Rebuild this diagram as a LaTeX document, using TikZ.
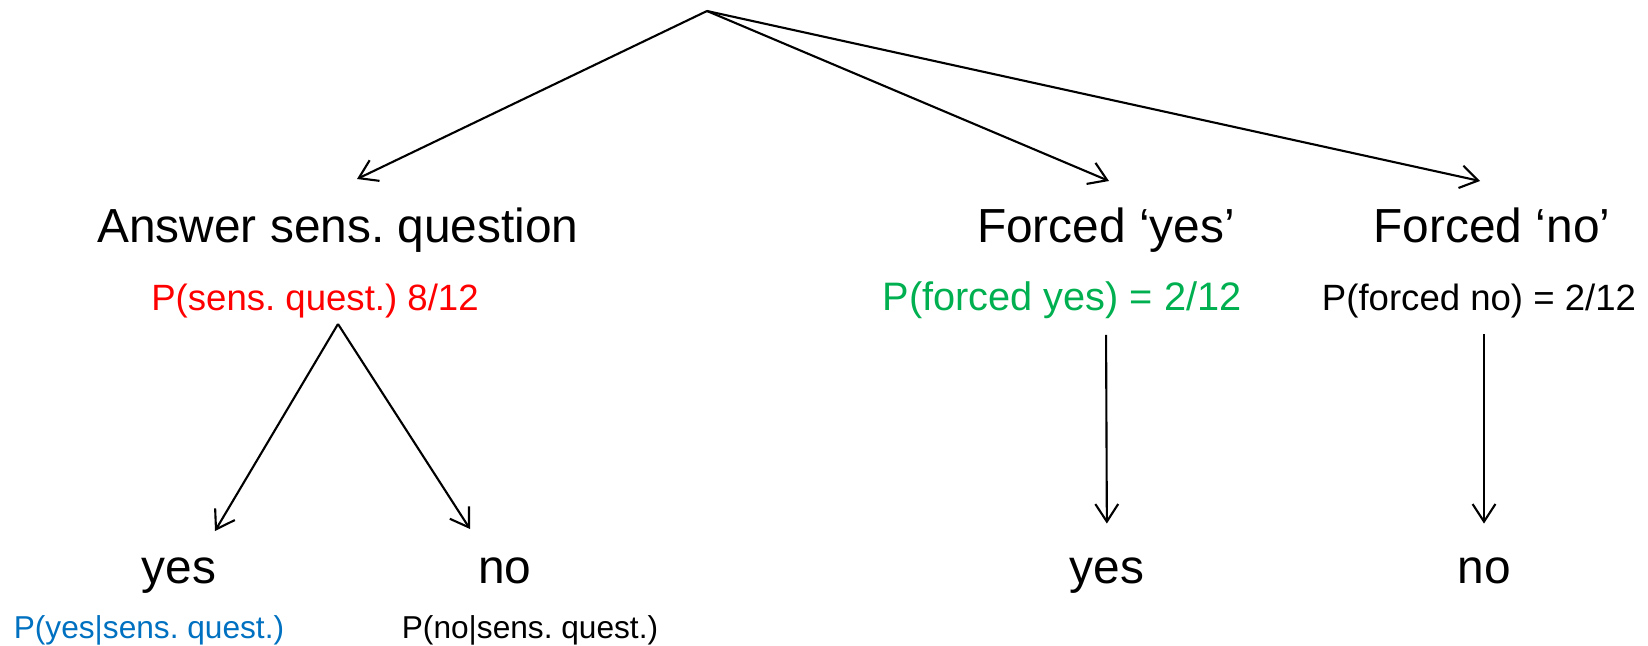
\documentclass[tikz,border=0pt]{standalone}
\usepackage{fontspec}
\setmainfont{Liberation Sans}
\usepackage{xcolor}
\usepackage{tikz}
\usetikzlibrary{arrows.meta}
\usetikzlibrary{positioning}
\definecolor{qred}{RGB}{255,0,0}
\definecolor{qgreen}{RGB}{0,176,80}
\definecolor{qblue}{RGB}{0,112,192}
\frenchspacing

\begin{document}
\begin{tikzpicture}[x=0.01cm,y=-0.01cm]
\useasboundingbox (0,0) rectangle (1648,645);

\tikzset{>={Straight Barb[length=5pt,width=6.5pt]}}
\tikzstyle{arr} = [->, line width=0.6pt];
\tikzstyle{big} = [inner sep=0pt, anchor=base, font=\fontsize{13.6}{16}\selectfont];
\tikzstyle{mid} = [inner sep=0pt, anchor=base, font=\fontsize{10.4}{12}\selectfont];
\tikzstyle{small} = [inner sep=0pt, anchor=base, font=\fontsize{9}{11}\selectfont];

% labels
\node[big] (ans) at (338,242) {Answer sens. question};
\node[mid,text=qred] (psq) at (315,310) {P(sens. quest.) 8/12};
\node[big] (fyes) at (1106,242) {Forced ‘yes’};
\node[mid,text=qgreen,font=\fontsize{11.3}{13}\selectfont] (pfy) at (1062,310) {P(forced yes) = 2/12};
\node[big] (fno) at (1492,242) {Forced ‘no’};
\node[mid] (pfn) at (1479,310) {P(forced no) = 2/12};

\node[big] (yes1) at (179,583) {yes};
\node[big] (no1) at (505,583) {no};
\node[big] (yes2) at (1107,583) {yes};
\node[big] (no2) at (1484,583) {no};
\node[small,text=qblue] (pys) at (149,638) {P(yes|sens. quest.)};
\node[small] (pns) at (530,638) {P(no|sens. quest.)};

% arrows from the root
\coordinate (root) at (707,11);
\coordinate (tans) at (357,179);
\coordinate (tfyes) at (1109,181);
\coordinate (tfno) at (1480,181);
\draw[arr] (root) -- (tans);
\draw[arr] (root) -- (tfyes);
\draw[arr] (root) -- (tfno);

% answer branch
\coordinate (fork) at (338,324);
\coordinate (tyes1) at (215,531);
\coordinate (tno1) at (470,529);
\draw[arr] (fork) -- (tyes1);
\draw[arr] (fork) -- (tno1);

% forced answers
\draw[arr,shorten <=0.16cm,shorten >=0.33cm] (fyes.center |- pfy.south) -- (yes2.north);
\draw[arr,shorten <=0.16cm,shorten >=0.33cm] (no2.north |- pfn.south) -- (no2.north);

\end{tikzpicture}
\end{document}
